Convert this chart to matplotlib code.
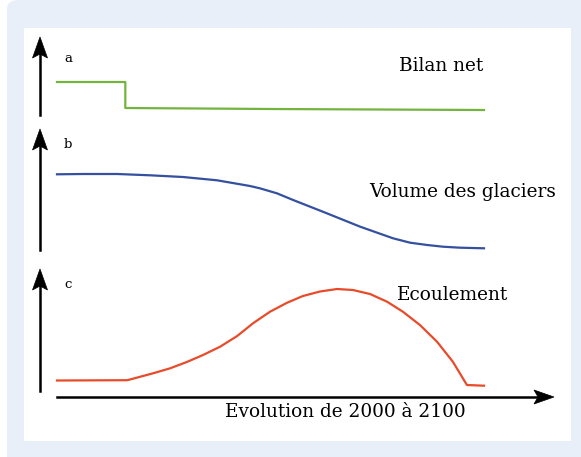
import matplotlib
matplotlib.use("Agg")
import matplotlib.pyplot as plt
from matplotlib.patches import FancyBboxPatch, Rectangle, Polygon
import math

W, H = 581, 457

# ---- data (years, arbitrary units) ----
bilan_years = [2000, 2016, 2016, 2050, 2100]
bilan_vals = [33, 33, 7, 6, 5]

volume_years = [2000, 2006.1, 2014.1, 2021.8, 2029.5, 2037.5, 2045.2, 2047.5, 2051.5, 2055.3,
                2063.2, 2071, 2078.7, 2082.7, 2086.7, 2090.4, 2094.4, 2100]
volume_vals = [75.7, 76, 76, 74.7, 73, 69.7, 64, 61.7, 56.7, 50,
               36.7, 23.3, 11.7, 7.3, 5, 3.3, 2.3, 1.7]

ecoul_years = [2000, 2016.4, 2017.1, 2022.5, 2026.5, 2030.4, 2034.2, 2038.2, 2042.2, 2045.9,
               2049.9, 2053.9, 2057.6, 2061.6, 2065.6, 2069.3, 2073.3, 2077.3, 2081, 2085,
               2089, 2092.7, 2096, 2100]
ecoul_vals = [10.5, 10.8, 11.5, 17.7, 22.7, 29, 36, 44.3, 55, 67.7,
              79.3, 88.3, 95, 99.5, 102, 101, 97, 89.3, 79.3, 66,
              49.3, 29.3, 6, 5.3]

panel_letters = ["a", "b", "c"]
panel_titles = ["Bilan net", "Volume des glaciers", "Ecoulement"]
xlabel = "Evolution de 2000 à 2100"

colors = ["#72b43e", "#34509e", "#e84b2a"]
FONT = "DejaVu Serif"

fig = plt.figure(figsize=(W / 100, H / 100), dpi=100)
fig.patch.set_facecolor("white")


def fx(px):
    return px / W


def fy(py):
    return 1 - py / H


# background frames
bg = FancyBboxPatch((fx(7), fy(470)), fx(600), 470 / H, boxstyle="round,pad=0,rounding_size=0.02",
                    transform=fig.transFigure, facecolor="#e8eff8", edgecolor="none", zorder=-2)
fig.patches.append(bg)
inner = Rectangle((fx(24), fy(441)), fx(571 - 24), (441 - 28) / H, transform=fig.transFigure,
                  facecolor="white", edgecolor="none", zorder=-1)
fig.patches.append(inner)

# panels: (top px, bottom px)
panels = [(38, 115), (130, 250), (270, 391)]
series = [(bilan_years, bilan_vals), (volume_years, volume_vals), (ecoul_years, ecoul_vals)]

for (top, bot), (xs, ys), col in zip(panels, series, colors):
    ax = fig.add_axes([fx(57), fy(bot), fx(484 - 57), (bot - top) / H])
    ax.set_zorder(3)
    ax.set_xlim(2000, 2100)
    ax.set_ylim(0, bot - top)
    ax.axis("off")
    ax.patch.set_visible(False)
    ax.plot(xs, ys, color=col, lw=1.6, clip_on=False, solid_joinstyle="round")


def arrow(x0, y0, x1, y1, hl=18, hw=7, notch=4):
    # shaft and stealth-style head, in figure pixel coords
    dx, dy = x1 - x0, y1 - y0
    L = math.hypot(dx, dy)
    ux, uy = dx / L, dy / L
    nx, ny = -uy, ux
    bx, by = x1 - ux * hl, y1 - uy * hl
    fig.lines.append(plt.Line2D([fx(x0), fx(x1 - ux * (hl - notch))], [fy(y0), fy(y1 - uy * (hl - notch))],
                                transform=fig.transFigure, color="black", lw=1.8, zorder=5))
    pts = [(x1, y1), (bx + nx * hw, by + ny * hw), (bx + ux * notch, by + uy * notch), (bx - nx * hw, by - ny * hw)]
    fig.patches.append(Polygon([(fx(a), fy(b)) for a, b in pts], closed=True, transform=fig.transFigure,
                               facecolor="black", edgecolor="black", lw=0.5, zorder=6))


arrow(40, 115, 40, 37, hl=21, hw=7.5)
arrow(40, 250, 40, 129, hl=21, hw=7.5)
arrow(40, 391, 40, 269, hl=21, hw=7.5)
arrow(57, 397, 554, 397, hl=20, hw=7)

letter_pos = [(68, 58), (68, 145), (68, 285)]
for (x, y), t in zip(letter_pos, panel_letters):
    fig.text(fx(x), fy(y), t, family=FONT, fontsize=9.5, ha="center", va="center", zorder=7)

title_pos = [(441, 66), (463, 192), (453, 295)]
for (x, y), t in zip(title_pos, panel_titles):
    fig.text(fx(x), fy(y), t, family=FONT, fontsize=13.3, ha="center", va="center", zorder=7)

fig.text(fx(345), fy(412), xlabel, family=FONT, fontsize=13.3, ha="center", va="center", zorder=7)

fig.savefig("out.png", dpi=100)
